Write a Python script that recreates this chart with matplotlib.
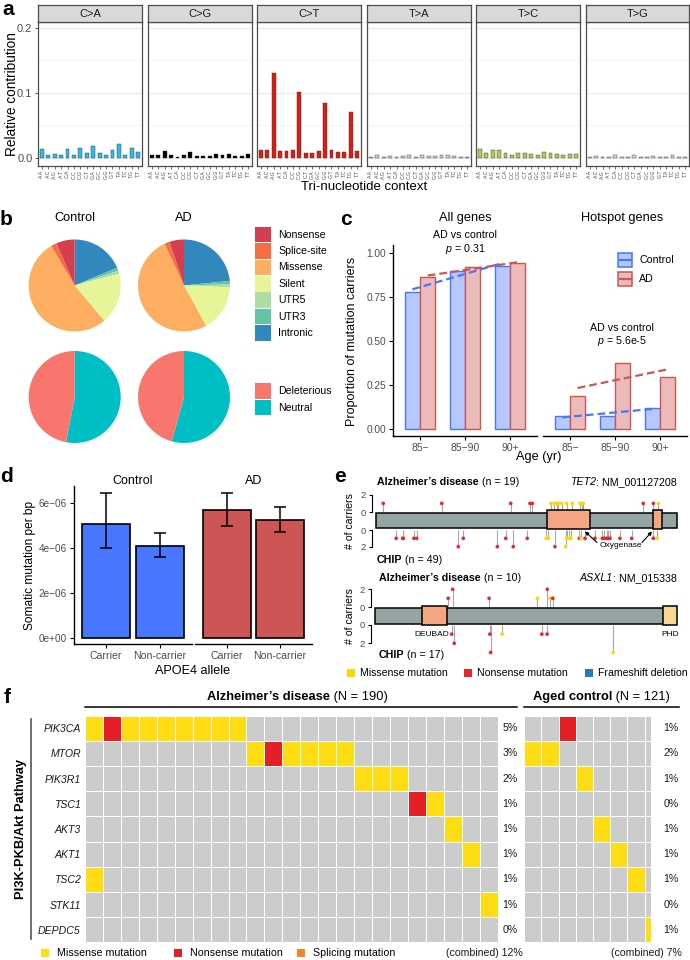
import matplotlib
matplotlib.use('Agg')
import matplotlib.pyplot as plt
import numpy as np
from matplotlib.patches import Rectangle
from matplotlib.colors import ListedColormap
from matplotlib.transforms import blended_transform_factory

plt.rcParams['font.family'] = ['Liberation Sans', 'DejaVu Sans']
plt.rcParams['axes.unicode_minus'] = True
plt.rcParams['mathtext.fontset'] = 'custom'
plt.rcParams['mathtext.it'] = 'Liberation Sans:italic'
plt.rcParams['mathtext.rm'] = 'Liberation Sans'

# ---------------- data ----------------
# a: 96 trinucleotide profile
sub_types = ['C>A', 'C>G', 'C>T', 'T>A', 'T>C', 'T>G']
contexts = ['A.A', 'A.C', 'A.G', 'A.T', 'C.A', 'C.C', 'C.G', 'C.T',
            'G.A', 'G.C', 'G.G', 'G.T', 'T.A', 'T.C', 'T.G', 'T.T']
prof_CA = [0.014, 0.005, 0.006, 0.005, 0.014, 0.005, 0.016, 0.008,
           0.018, 0.008, 0.005, 0.013, 0.021, 0.005, 0.015, 0.009]
prof_CG = [0.004, 0.004, 0.010, 0.004, 0.002, 0.004, 0.009, 0.003,
           0.003, 0.003, 0.006, 0.005, 0.006, 0.003, 0.003, 0.006]
prof_CT = [0.012, 0.012, 0.130, 0.011, 0.010, 0.012, 0.102, 0.007,
           0.007, 0.011, 0.085, 0.012, 0.009, 0.009, 0.070, 0.011]
prof_TA = [0.002, 0.004, 0.002, 0.003, 0.002, 0.003, 0.004, 0.002,
           0.004, 0.003, 0.003, 0.004, 0.004, 0.003, 0.002, 0.002]
prof_TC = [0.014, 0.008, 0.013, 0.013, 0.008, 0.005, 0.007, 0.007,
           0.006, 0.005, 0.009, 0.007, 0.006, 0.005, 0.006, 0.006]
prof_TG = [0.002, 0.003, 0.002, 0.002, 0.004, 0.002, 0.002, 0.004,
           0.002, 0.002, 0.003, 0.002, 0.002, 0.005, 0.001, 0.002]
sub_colors = ['#2EBAED', '#000000', '#DE1C14', '#D4D2D2', '#ADCC54', '#F0D0CE']

# b: pies
func_labels = ['Nonsense', 'Splice-site', 'Missense', 'Silent', 'UTR5', 'UTR3', 'Intronic']
func_colors = ['#D53E4F', '#F46D43', '#FDAE61', '#E6F598', '#ABDDA4', '#66C2A5', '#3288BD']
func_control = [0.065, 0.020, 0.526, 0.180, 0.011, 0.011, 0.187]
func_ad = [0.051, 0.018, 0.511, 0.164, 0.010, 0.012, 0.234]
del_labels = ['Deleterious', 'Neutral']
del_colors = ['#F8766D', '#00BFC4']
del_control = [0.47, 0.53]
del_ad = [0.457, 0.543]

# c: carriers by age
age_groups = ['85\u2212', '85\u221290', '90+']
all_control = [0.777, 0.900, 0.926]
all_ad = [0.865, 0.922, 0.941]
hot_control = [0.073, 0.075, 0.121]
hot_ad = [0.188, 0.375, 0.294]

# d: somatic mutation rate by APOE4
apoe_groups = ['Carrier', 'Non-carrier']
rate_control = [5.08e-6, 4.12e-6]
rate_control_lo = [4.00e-6, 3.63e-6]
rate_control_hi = [6.44e-6, 4.69e-6]
rate_ad = [5.70e-6, 5.26e-6]
rate_ad_lo = [5.00e-6, 4.72e-6]
rate_ad_hi = [6.46e-6, 5.83e-6]

# e: lollipops
tet2_len = 2002
tet2_domains = [(1136, 1424), (1845, 1904)]
tet2_ad_pos = [50, 439, 897, 1025, 1041, 1163, 1187, 1203, 1213, 1236, 1269, 1306,
               1357, 1369, 1379, 1778, 1845, 1878]
tet2_ad_cnt = [1] * 18
tet2_ad_type = ['N', 'N', 'N', 'N', 'N', 'M', 'M', 'M', 'M', 'M', 'M', 'M',
                'M', 'M', 'M', 'N', 'N', 'M']
tet2_chip_pos = [136, 179, 184, 254, 272, 582, 864, 1007, 1132, 1147, 1269, 1286,
                 1298, 1353, 1364, 1391, 1457, 1506, 1519, 1535, 1546, 1557, 1623,
                 1701, 1845, 1871, 549, 808, 914, 1191, 1262]
tet2_chip_cnt = [1] * 26 + [2] * 5
tet2_chip_type = ['N', 'N', 'N', 'N', 'N', 'N', 'N', 'N', 'M', 'M', 'M', 'M',
                  'M', 'N', 'M', 'N', 'N', 'N', 'N', 'N', 'N', 'N', 'N',
                  'N', 'N', 'M', 'N', 'N', 'N', 'N', 'M']
asxl1_len = 1541
asxl1_deubad = (240, 371)
asxl1_phd = (1481, 1549)
asxl1_ad_pos = [376, 399, 586, 834, 885, 899, 913]
asxl1_ad_cnt = [1, 2, 1, 1, 2, 1, 1]
asxl1_ad_type = ['N', 'N', 'N', 'M', 'N', 'M', 'N']
asxl1_chip_pos = [394, 407, 590, 594, 653, 857, 884, 1223]
asxl1_chip_cnt = [1, 2, 1, 3, 1, 1, 1, 3]
asxl1_chip_type = ['N', 'N', 'N', 'N', 'M', 'N', 'N', 'M']
mut_colors = {'M': '#FFD700', 'N': '#E8262B', 'F': '#2B7BBA', 'S': '#F58426'}

# f: oncoprint
genes = ['PIK3CA', 'MTOR', 'PIK3R1', 'TSC1', 'AKT3', 'AKT1', 'TSC2', 'STK11', 'DEPDC5']
ad_onco = ['MNMMMMMMM..............',
           '.........MNMMMM........',
           '...............MMM.....',
           '..................NM...',
           '....................M..',
           '.....................M.',
           'M......................',
           '......................M',
           '.......................']
ctrl_onco = ['..N.....',
             'MM......',
             '...M....',
             '........',
             '....M...',
             '.....M..',
             '......M.',
             '........',
             '.......M']
n_ad, n_ctrl = 190, 121

# ---------------- figure ----------------
W, H = 690, 960
fig = plt.figure(figsize=(W / 100, H / 100), dpi=100)


def add_ax(x0, y0, x1, y1, **kw):
    return fig.add_axes([x0 / W, 1 - y1 / H, (x1 - x0) / W, (y1 - y0) / H], **kw)


def ftext(x, y, s, **kw):
    return fig.text(x / W, 1 - y / H, s, **kw)


ov = fig.add_axes([0, 0, 1, 1], zorder=20)
ov.set_xlim(0, W)
ov.set_ylim(H, 0)
ov.axis('off')
ov.patch.set_alpha(0)

GREY30 = '#4D4D4D'
PL = dict(fontsize=15, fontweight='bold', va='baseline')
ftext(2, 15, 'a', **PL)
ftext(0, 225, 'b', **PL)
ftext(340, 225, 'c', **PL)
ftext(0, 482, 'd', **PL)
ftext(334, 482, 'e', **PL)
ftext(4, 703, 'f', **PL)

# ---------------- panel a ----------------
facet_x = [(38, 142), (148, 252), (257, 361), (367, 471), (476, 580), (586, 689)]
profiles = [prof_CA, prof_CG, prof_CT, prof_TA, prof_TC, prof_TG]
xs = np.arange(1, 17)
for i, (st, vals, col) in enumerate(zip(sub_types, profiles, sub_colors)):
    x0, x1 = facet_x[i]
    ax = add_ax(x0, 22, x1, 166)
    ax.set_axisbelow(True)
    ax.bar(xs, vals, width=0.6, color=col, edgecolor='#333333', linewidth=0.3)
    ax.set_xlim(0.4, 16.6)
    ax.set_ylim(-0.0123, 0.209)
    ax.set_yticks([0, 0.1, 0.2])
    ax.set_yticks([0.05, 0.15], minor=True)
    ax.grid(axis='y', which='major', color='#EBEBEB', lw=0.9)
    ax.grid(axis='y', which='minor', color='#F4F4F4', lw=0.6)
    ax.set_xticks(xs)
    ax.set_xticklabels(contexts, rotation=90, fontsize=3.7, color=GREY30)
    ax.tick_params(axis='x', length=2, width=0.5, pad=0.8, color='#333333')
    ax.tick_params(axis='y', which='minor', length=0)
    if i == 0:
        ax.set_yticklabels(['0.0', '0.1', '0.2'], fontsize=8, color=GREY30)
        ax.tick_params(axis='y', length=2.5, width=0.6, pad=1.5, color='#333333')
    else:
        ax.tick_params(axis='y', which='both', length=0, labelleft=False)
    for sp in ax.spines.values():
        sp.set_color('#4D4D4D')
        sp.set_linewidth(0.9)
    sx = add_ax(x0, 5, x1, 22)
    sx.set_facecolor('#D9D9D9')
    sx.set_xticks([])
    sx.set_yticks([])
    for sp in sx.spines.values():
        sp.set_color('#4D4D4D')
        sp.set_linewidth(0.9)
    sx.text(0.5, 0.47, st, transform=sx.transAxes, ha='center', va='center',
            fontsize=8, color='#1A1A1A')
ftext(12, 94, 'Relative contribution', rotation=90, ha='center', va='center', fontsize=9.8)
ftext(364, 187, 'Tri-nucleotide context', ha='center', va='center', fontsize=9.5)

# ---------------- panel b ----------------
def draw_pie(cx, cy, r, vals, cols):
    ax = add_ax(cx - r, cy - r, cx + r, cy + r)
    ax.pie(vals[::-1], colors=cols[::-1], startangle=90, counterclock=False,
           wedgeprops=dict(linewidth=0))
    ax.set_xlim(-1, 1)
    ax.set_ylim(-1, 1)
    ax.set_aspect('equal')
    ax.axis('off')


draw_pie(74.7, 285.5, 46, func_control, func_colors)
draw_pie(184, 285.5, 46, func_ad, func_colors)
draw_pie(74.7, 397, 46, del_control, del_colors)
draw_pie(184, 397, 46, del_ad, del_colors)
ftext(75, 218, 'Control', ha='center', va='center', fontsize=9.2)
ftext(184, 218, 'AD', ha='center', va='center', fontsize=9.2)
for k, (lab, col) in enumerate(zip(func_labels, func_colors)):
    cy = 234.5 + k * 16.4
    ov.add_patch(Rectangle((255, cy - 7.8), 16, 15.6, facecolor=col, edgecolor='none'))
    ov.text(278, cy, lab, ha='left', va='center', fontsize=7.6)
for k, (lab, col) in enumerate(zip(del_labels, del_colors)):
    cy = 391.2 + k * 16.4
    ov.add_patch(Rectangle((255, cy - 7.8), 16, 15.6, facecolor=col, edgecolor='none'))
    ov.text(278, cy, lab, ha='left', va='center', fontsize=7.6)

# ---------------- panel c ----------------
BLUE, RED = '#4876FF', '#CD5555'
BLUE_F, RED_F = '#B6C8FF', '#EBBBBB'
gx = np.arange(1, 4)
dodge = 0.17
for k, (ctrl, ad, (x0, x1)) in enumerate([(all_control, all_ad, (393, 537)),
                                          (hot_control, hot_ad, (543, 687))]):
    ax = add_ax(x0, 245, x1, 436)
    ax.bar(gx - dodge, ctrl, width=0.32, color=BLUE_F, edgecolor=BLUE, linewidth=1.0)
    ax.bar(gx + dodge, ad, width=0.32, color=RED_F, edgecolor=RED, linewidth=1.0)
    for vals, off, col in [(ctrl, -dodge, BLUE), (ad, dodge, RED)]:
        b, a = np.polyfit(gx, vals, 1)
        xx = np.array([1, 3]) + off
        ax.plot(xx, a + b * (xx - off), color=col, lw=1.6, ls=(0, (3.5, 1.8)))
    ax.set_xlim(0.4, 3.6)
    ax.set_ylim(-0.04, 1.045)
    ax.spines['top'].set_visible(False)
    ax.spines['right'].set_visible(False)
    ax.spines['bottom'].set_linewidth(1.0)
    ax.set_xticks(gx)
    ax.set_xticklabels(age_groups, fontsize=7.5, color=GREY30)
    ax.tick_params(axis='x', length=3, width=0.8, pad=2)
    if k == 0:
        ax.spines['left'].set_linewidth(1.0)
        ax.set_yticks([0, 0.25, 0.5, 0.75, 1.0])
        ax.set_yticklabels(['0.00', '0.25', '0.50', '0.75', '1.00'], fontsize=7.3, color=GREY30)
        ax.tick_params(axis='y', length=3, width=0.8, pad=2)
    else:
        ax.spines['left'].set_visible(False)
        ax.set_yticks([])
    ax.patch.set_alpha(0)
ftext(465, 218, 'All genes', ha='center', va='center', fontsize=9.2)
ftext(622, 218, 'Hotspot genes', ha='center', va='center', fontsize=9.2)
ftext(465, 235, 'AD vs control', ha='center', va='center', fontsize=7.7)
ftext(465, 249, r'$p$ = 0.31', ha='center', va='center', fontsize=7.7)
ftext(622, 327.7, 'AD vs control', ha='center', va='center', fontsize=7.7)
ftext(622, 340.7, r'$p$ = 5.6e-5', ha='center', va='center', fontsize=7.7)
ftext(352, 341, 'Proportion of mutation carriers', rotation=90, ha='center', va='center', fontsize=9)
ftext(539, 457, 'Age (yr)', ha='center', va='center', fontsize=9.2)
for k, (lab, fc, ec) in enumerate([('Control', BLUE_F, BLUE), ('AD', RED_F, RED)]):
    cy = 260 + k * 19
    ov.add_patch(Rectangle((618, cy - 6.7), 14, 13.4, facecolor=fc, edgecolor=ec, lw=1.1))
    ov.plot([619.5, 630.5], [cy, cy], color=ec, lw=1.6)
    ov.text(639, cy, lab, ha='left', va='center', fontsize=7.7)

# ---------------- panel d ----------------
dx = np.arange(1, 3)
for k, (vals, lo, hi, col, (x0, x1), title) in enumerate([
        (rate_control, rate_control_lo, rate_control_hi, BLUE, (74, 192), 'Control'),
        (rate_ad, rate_ad_lo, rate_ad_hi, RED, (195, 312), 'AD')]):
    ax = add_ax(x0, 486, x1, 644)
    ax.bar(dx, vals, width=0.9, color=col, edgecolor='black', linewidth=1.2)
    yerr = [np.array(vals) - np.array(lo), np.array(hi) - np.array(vals)]
    ax.errorbar(dx, vals, yerr=yerr, fmt='none', ecolor='black', elinewidth=1.1,
                capsize=4.5, capthick=1.1)
    ax.set_xlim(0.4, 2.6)
    ax.set_ylim(-0.253e-6, 6.77e-6)
    ax.spines['top'].set_visible(False)
    ax.spines['right'].set_visible(False)
    ax.spines['bottom'].set_linewidth(1.0)
    ax.set_xticks(dx)
    ax.set_xticklabels(apoe_groups, fontsize=7.6, color=GREY30)
    ax.tick_params(axis='x', length=3, width=0.8, pad=2)
    if k == 0:
        ax.spines['left'].set_linewidth(1.0)
        ax.set_yticks([0, 2e-6, 4e-6, 6e-6])
        ax.set_yticklabels(['0e+00', '2e\u221206', '4e\u221206', '6e\u221206'], fontsize=7.2, color=GREY30)
        ax.tick_params(axis='y', length=3, width=0.8, pad=2)
    else:
        ax.spines['left'].set_visible(False)
        ax.set_yticks([])
    ax.patch.set_alpha(0)
    ftext((x0 + x1) / 2, 481, title, ha='center', va='center', fontsize=9)
ftext(30, 565, 'Somatic mutation per bp', rotation=90, ha='center', va='center', fontsize=8.6)
ftext(193, 671, 'APOE4 allele', ha='center', va='center', fontsize=9.1)

# ---------------- panel e ----------------
def two_part(x, y, bold, normal, fs=7.7):
    t = ftext(x, y, bold, fontweight='bold', fontsize=fs, ha='left', va='center')
    ov.annotate(normal, xy=(1, 0.5), xycoords=t, ha='left', va='center', fontsize=fs)


def gene_label(x, y, gene, rest, fs=7.7):
    t = ftext(x, y, rest, fontsize=fs, ha='right', va='center')
    ov.annotate(gene, xy=(0, 0.5), xycoords=t, ha='right', va='center', fontsize=fs,
                style='italic')


def lolli_axis(ax):
    for s in ['top', 'right', 'bottom']:
        ax.spines[s].set_visible(False)
    ax.spines['left'].set_bounds(0, 2)
    ax.spines['left'].set_position(('outward', 3))
    ax.spines['left'].set_linewidth(0.8)
    ax.set_yticks([0, 2])
    ax.set_yticklabels(['0', '2'], fontsize=6.8, color=GREY30)
    ax.tick_params(axis='y', length=2.5, width=0.8, pad=1.5)
    ax.set_xticks([])
    ax.patch.set_alpha(0)


def lollipops(ax, pos, cnt, typ):
    ax.vlines(pos, 0, cnt, color='#A8A8A8', lw=0.8, zorder=1)
    ax.scatter(pos, cnt, c=[mut_colors[t] for t in typ], s=7, linewidths=0, zorder=3,
               clip_on=False)


# TET2
x0e, x1e = 375.7, 677
ax = add_ax(x0e, 490, x1e, 512)
ax.set_xlim(0, tet2_len)
ax.set_ylim(0, (512 - 490) / 8.6)
lolli_axis(ax)
lollipops(ax, tet2_ad_pos, tet2_ad_cnt, tet2_ad_type)
ax = add_ax(x0e, 530, x1e, 553)
ax.set_xlim(0, tet2_len)
ax.set_ylim((553 - 530) / 8.35, 0)
lolli_axis(ax)
lollipops(ax, tet2_chip_pos, tet2_chip_cnt, tet2_chip_type)
ax = add_ax(x0e - 2, 508, x1e + 2, 532)
ax.set_xlim(-2 / 0.1505, tet2_len + 2 / 0.1505)
ax.set_ylim(532, 508)
ax.axis('off')
ax.add_patch(Rectangle((0, 512.7), tet2_len, 15.6, facecolor='#95A5A3', edgecolor='black', lw=1.1))
for a, b in tet2_domains:
    ax.add_patch(Rectangle((a, 510), b - a, 19.3, facecolor='#F4A582', edgecolor='black', lw=1.1))
two_part(377, 481.7, "Alzheimer\u2019s disease", ' (n = 19)')
gene_label(677, 481.7, 'TET2', ': NM_001127208')
two_part(377, 560, 'CHIP', ' (n = 49)')
ftext(350, 521, '# of carriers', rotation=90, ha='center', va='center', fontsize=7.6)
ov.text(620.7, 545.7, 'Oxygenase', ha='center', va='center', fontsize=6)
ov.annotate('', xy=(585, 531.5), xytext=(597, 542.5),
            arrowprops=dict(arrowstyle='-|>', lw=0.8, color='black', mutation_scale=5,
                            shrinkA=0, shrinkB=0))
ov.annotate('', xy=(652, 531.5), xytext=(642, 542.5),
            arrowprops=dict(arrowstyle='-|>', lw=0.8, color='black', mutation_scale=5,
                            shrinkA=0, shrinkB=0))

# ASXL1
x0a, x1a = 375, 675
sc = (x1a - x0a) / asxl1_len
ax = add_ax(x0a, 585, x1a, 607.3)
ax.set_xlim(0, asxl1_len)
ax.set_ylim(0, (607.3 - 585) / 9)
lolli_axis(ax)
lollipops(ax, asxl1_ad_pos, asxl1_ad_cnt, asxl1_ad_type)
ax = add_ax(x0a, 625, x1a, 656)
ax.set_xlim(0, asxl1_len)
ax.set_ylim((656 - 625) / 9.15, 0)
lolli_axis(ax)
lollipops(ax, asxl1_chip_pos, asxl1_chip_cnt, asxl1_chip_type)
ax = add_ax(x0a - 2, 603, x1a + 4, 628)
ax.set_xlim(-2 / sc, asxl1_len + 4 / sc)
ax.set_ylim(628, 603)
ax.axis('off')
ax.add_patch(Rectangle((0, 608.3), asxl1_len, 15.7, facecolor='#95A5A3', edgecolor='black', lw=1.1))
ax.add_patch(Rectangle((asxl1_deubad[0], 605.7), asxl1_deubad[1] - asxl1_deubad[0], 19.6,
                       facecolor='#F4A582', edgecolor='black', lw=1.1))
ax.add_patch(Rectangle((asxl1_phd[0], 605.7), asxl1_phd[1] - asxl1_phd[0], 19.6,
                       facecolor='#F8D792', edgecolor='black', lw=1.1))
two_part(379, 578, "Alzheimer\u2019s disease", ' (n = 10)')
gene_label(677, 578, 'ASXL1', ': NM_015338')
two_part(379, 655, 'CHIP', ' (n = 17)')
ftext(350, 616, '# of carriers', rotation=90, ha='center', va='center', fontsize=7.6)
ov.text(431.7, 634.3, 'DEUBAD', ha='center', va='center', fontsize=6)
ov.text(670, 634.3, 'PHD', ha='center', va='center', fontsize=6)
for xk, lab, t in [(346.7, 'Missense mutation', 'M'), (464, 'Nonsense mutation', 'N'),
                   (585, 'Frameshift deletion', 'F')]:
    ov.add_patch(Rectangle((xk, 668.7), 8.3, 8, facecolor=mut_colors[t], edgecolor='none'))
    ov.text(xk + 13.3, 672.7, lab, ha='left', va='center', fontsize=7.6)

# ---------------- panel f ----------------
code = {'.': 0, 'M': 1, 'N': 2, 'S': 3}
onco_cmap = ListedColormap(['#CCCCCC', '#FFDD15', '#E41F26', '#F58426'])


def oncoprint(rows, x0, x1, xmax, n, pct_x, comb_x):
    mat = np.array([[code[c] for c in r] for r in rows])
    nr, nc = mat.shape
    ax = add_ax(x0, 715.7, x1, 942.3)
    ax.pcolormesh(np.arange(nc + 1), np.arange(nr + 1), mat, cmap=onco_cmap,
                  vmin=-0.5, vmax=3.5, edgecolors='white', linewidth=0.7)
    ax.set_xlim(0, xmax if xmax else nc)
    ax.set_ylim(nr, 0)
    ax.set_xticks([])
    ax.set_yticks([])
    for sp in ax.spines.values():
        sp.set_visible(False)
    tr = blended_transform_factory(fig.transFigure, ax.transData)
    for i in range(nr):
        pct = round((mat[i] > 0).sum() / n * 100)
        ax.text(pct_x / W, i + 0.5, f'{pct}%', transform=tr, ha='center', va='center',
                fontsize=7.6, color='#1A1A1A')
    comb = round((mat > 0).any(axis=0).sum() / n * 100)
    ftext(comb_x, 953.3, f'(combined) {comb}%', ha='right', va='center', fontsize=7.6,
          color='#1A1A1A')
    return ax


axf = oncoprint(ad_onco, 85, 497.7, None, n_ad, 510, 522.5)
axf.set_yticks(np.arange(len(genes)) + 0.5)
axf.set_yticklabels(genes, fontsize=7.6, style='italic', color='#1A1A1A')
axf.tick_params(axis='y', length=0, pad=3)
oncoprint(ctrl_onco, 524.3, 651, 7.37, n_ctrl, 670.7, 681.7)

two_part(207.3, 697.3, "Alzheimer\u2019s disease", ' (N = 190)', fs=9.3)
two_part(532.7, 697.3, 'Aged control', ' (N = 121)', fs=9.3)
ov.plot([85, 516.7], [706.7, 706.7], color='black', lw=1.1)
ov.plot([524.3, 679], [706.7, 706.7], color='black', lw=1.1)
ov.plot([31, 31], [719, 939.3], color='#555555', lw=1.2)
ftext(21, 829, 'PI3K-PKB/Akt Pathway', rotation=90, ha='center', va='center',
      fontsize=9.3, fontweight='bold')
for xk, lab, col in [(41, 'Missense mutation', '#FFDD15'), (174, 'Nonsense mutation', '#E41F26'),
                     (296.7, 'Splicing mutation', '#F58426')]:
    ov.add_patch(Rectangle((xk, 949.3), 8.3, 8, facecolor=col, edgecolor='none'))
    ov.text(xk + 16.3, 953.3, lab, ha='left', va='center', fontsize=7.7)

fig.savefig('out.png', dpi=100)
